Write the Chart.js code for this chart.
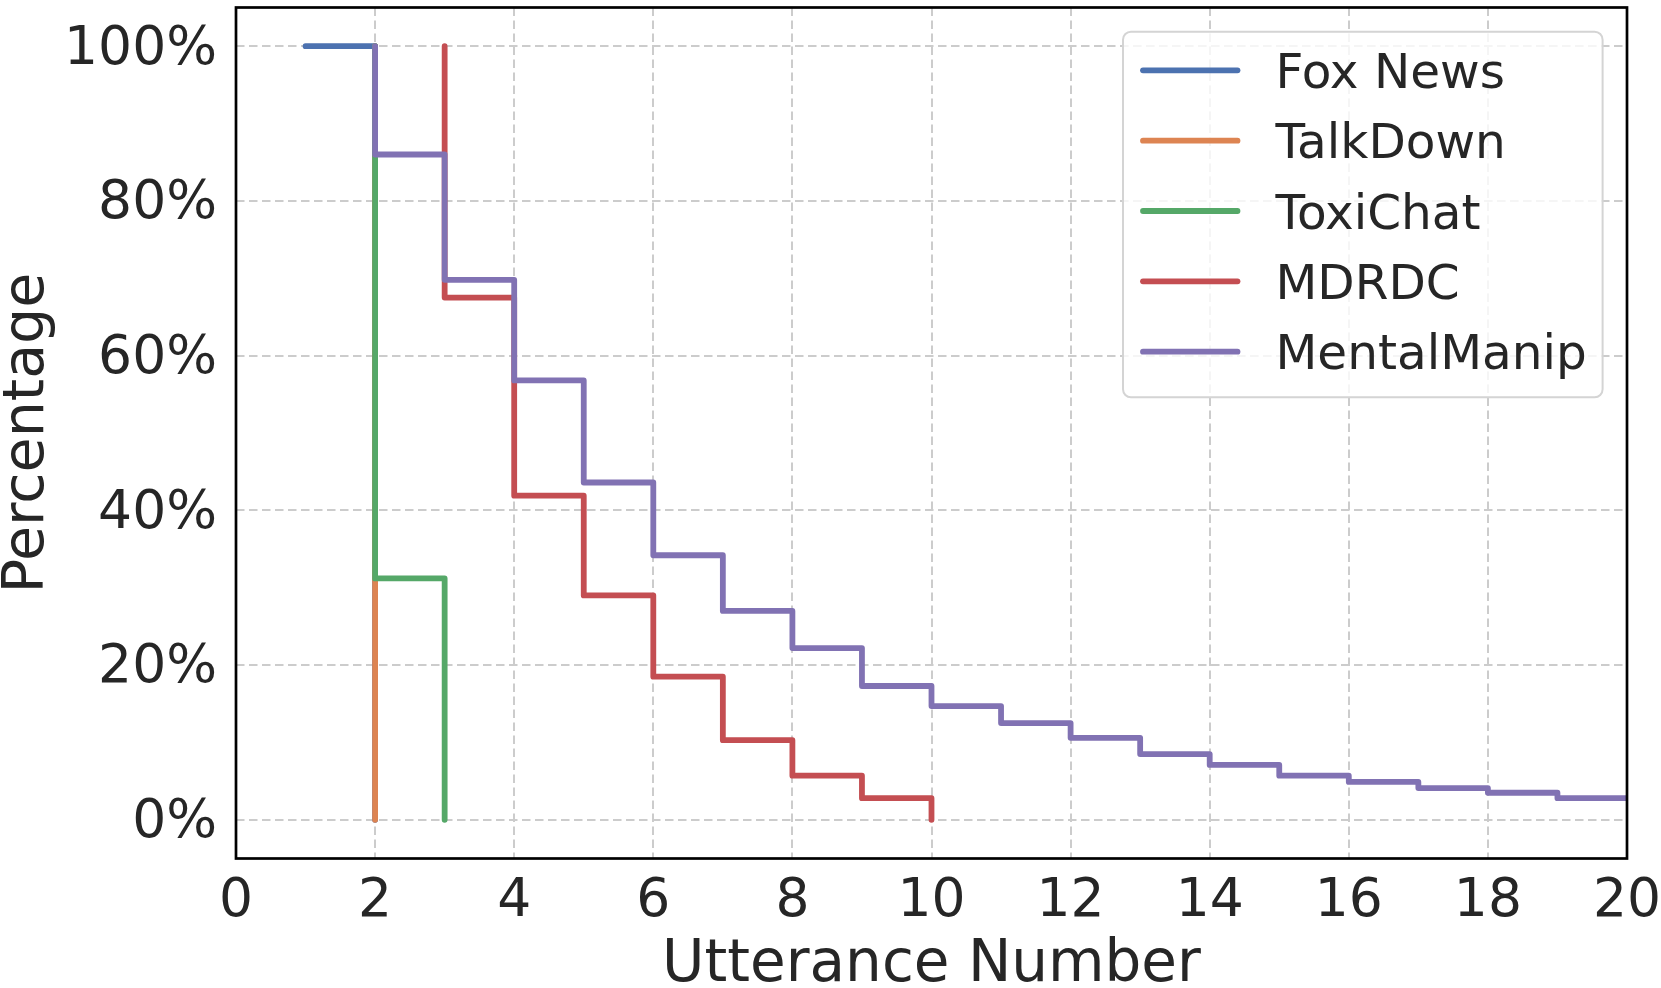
<!DOCTYPE html>
<html>
<head>
<meta charset="utf-8">
<script src="https://cdn.jsdelivr.net/npm/chart.js@4"></script>
<style>
  html, body { margin: 0; padding: 0; background: #ffffff; }
  #c { display: block; }
</style>
</head>
<body>
<canvas id="c" width="1661" height="988"></canvas>
<script>
// ---- data (step vertices, matplotlib step "pre" style) ----
const seriesNames = ['Fox News', 'TalkDown', 'ToxiChat', 'MDRDC', 'MentalManip'];

const foxX = [1, 2, 2];
const foxY = [100, 100, 0];

const talkX = [2, 2];
const talkY = [100, 0];

const toxiX = [2, 3, 3];
const toxiY = [100, 31.2, 0];

const mdrdcX = [3, 4, 5, 6, 7, 8, 9, 10, 10];
const mdrdcY = [100, 67.5, 41.9, 29.0, 18.5, 10.3, 5.7, 2.8, 0];

const mentalX = [2, 3, 4, 5, 6, 7, 8, 9, 10, 11, 12, 13, 14, 15, 16, 17, 18, 19, 20];
const mentalY = [100, 86.0, 69.8, 56.8, 43.6, 34.2, 27.0, 22.2, 17.3, 14.7, 12.5, 10.6, 8.5, 7.1, 5.7, 4.9, 4.1, 3.5, 2.8];

const xTicks = [0, 2, 4, 6, 8, 10, 12, 14, 16, 18, 20];
const yTicks = [0, 20, 40, 60, 80, 100];

const colors = ['#4C72B0', '#DD8452', '#55A868', '#C44E52', '#8172B3'];

// build step path (vertical first at previous x, then horizontal)
function stepPre(xs, ys) {
  const pts = [{x: xs[0], y: ys[0]}];
  for (let i = 1; i < xs.length; i++) {
    pts.push({x: xs[i - 1], y: ys[i]});
    pts.push({x: xs[i], y: ys[i]});
  }
  return pts;
}

const allX = [foxX, talkX, toxiX, mdrdcX, mentalX];
const allY = [foxY, talkY, toxiY, mdrdcY, mentalY];

const datasets = seriesNames.map((name, i) => ({
  label: name,
  data: stepPre(allX[i], allY[i]),
  borderColor: colors[i],
  backgroundColor: colors[i],
  borderWidth: 5.8,
  pointRadius: 0,
  pointHoverRadius: 0,
  fill: false,
  tension: 0,
  borderCapStyle: 'round',
  borderJoinStyle: 'round',
  order: seriesNames.length - i
}));

const FONT = "'DejaVu Sans', 'Liberation Sans', sans-serif";
const TEXT = '#262626';

const framePlugin = {
  id: 'frame',
  afterDatasetsDraw(chart) {
    const {ctx, chartArea: a} = chart;
    ctx.save();
    ctx.strokeStyle = '#000000';
    ctx.lineWidth = 2.7;
    ctx.strokeRect(a.left, a.top, a.right - a.left, a.bottom - a.top);
    ctx.restore();
  }
};

const legendPlugin = {
  id: 'boxLegend',
  afterDraw(chart) {
    const {ctx, chartArea: a} = chart;
    const bx = a.right - 504, by = a.top + 24.2, bw = 479.6, bh = 365.6, r = 8;
    ctx.save();
    ctx.beginPath();
    ctx.moveTo(bx + r, by);
    ctx.lineTo(bx + bw - r, by);
    ctx.arcTo(bx + bw, by, bx + bw, by + r, r);
    ctx.lineTo(bx + bw, by + bh - r);
    ctx.arcTo(bx + bw, by + bh, bx + bw - r, by + bh, r);
    ctx.lineTo(bx + r, by + bh);
    ctx.arcTo(bx, by + bh, bx, by + bh - r, r);
    ctx.lineTo(bx, by + r);
    ctx.arcTo(bx, by, bx + r, by, r);
    ctx.closePath();
    ctx.fillStyle = 'rgba(255,255,255,0.8)';
    ctx.fill();
    ctx.strokeStyle = '#d4d4d4';
    ctx.lineWidth = 2;
    ctx.stroke();

    ctx.font = '48.5px ' + FONT;
    ctx.textBaseline = 'alphabetic';
    ctx.textAlign = 'left';
    chart.data.datasets.forEach((ds, i) => {
      const cy = by + 38.6 + i * 70.35;
      ctx.beginPath();
      ctx.strokeStyle = ds.borderColor;
      ctx.lineWidth = 5.8;
      ctx.lineCap = 'round';
      ctx.moveTo(bx + 20, cy);
      ctx.lineTo(bx + 114.5, cy);
      ctx.stroke();
      ctx.fillStyle = TEXT;
      ctx.fillText(ds.label, bx + 152.5, cy + 17.6);
    });
    ctx.restore();
  }
};

new Chart(document.getElementById('c'), {
  type: 'line',
  data: { datasets },
  options: {
    responsive: false,
    devicePixelRatio: 1,
    animation: false,
    layout: { padding: { left: 0, top: 7.5, right: 34, bottom: 0 } },
    plugins: {
      legend: { display: false },
      tooltip: { enabled: false },
      title: { display: false }
    },
    scales: {
      x: {
        type: 'linear',
        min: 0,
        max: 20,
        afterBuildTicks(scale) { scale.ticks = xTicks.map(v => ({value: v})); },
        afterFit(scale) {
          scale.height = 129.5;
          scale.paddingLeft = 0; scale.paddingRight = 0;
        },
        border: { display: false, dash: [8.5, 4.5] },
        grid: {
          color: '#cccccc',
          lineWidth: 2,
          drawTicks: false
        },
        ticks: {
          color: TEXT,
          padding: 11.5,
          maxRotation: 0,
          autoSkip: false,
          font: { family: FONT, size: 53.5, lineHeight: 1.2 },
          callback: (v) => String(v)
        },
        title: {
          display: true,
          text: 'Utterance Number',
          color: TEXT,
          padding: 0,
          font: { family: FONT, size: 58, lineHeight: 0.77 }
        }
      },
      y: {
        type: 'linear',
        min: -5,
        max: 105,
        afterBuildTicks(scale) { scale.ticks = yTicks.map(v => ({value: v})); },
        afterFit(scale) {
          scale.width = 236;
          scale.paddingTop = 0; scale.paddingBottom = 0;
        },
        border: { display: false, dash: [8.5, 4.5] },
        grid: {
          color: '#cccccc',
          lineWidth: 2,
          drawTicks: false
        },
        ticks: {
          color: TEXT,
          padding: 19,
          labelOffset: 3.5,
          autoSkip: false,
          font: { family: FONT, size: 53.5, lineHeight: 1.2 },
          callback: (v) => v + '%'
        },
        title: {
          display: true,
          text: 'Percentage',
          color: TEXT,
          padding: 0,
          font: { family: FONT, size: 57, lineHeight: 1.0 }
        }
      }
    }
  },
  plugins: [framePlugin, legendPlugin]
});
</script>
</body>
</html>
